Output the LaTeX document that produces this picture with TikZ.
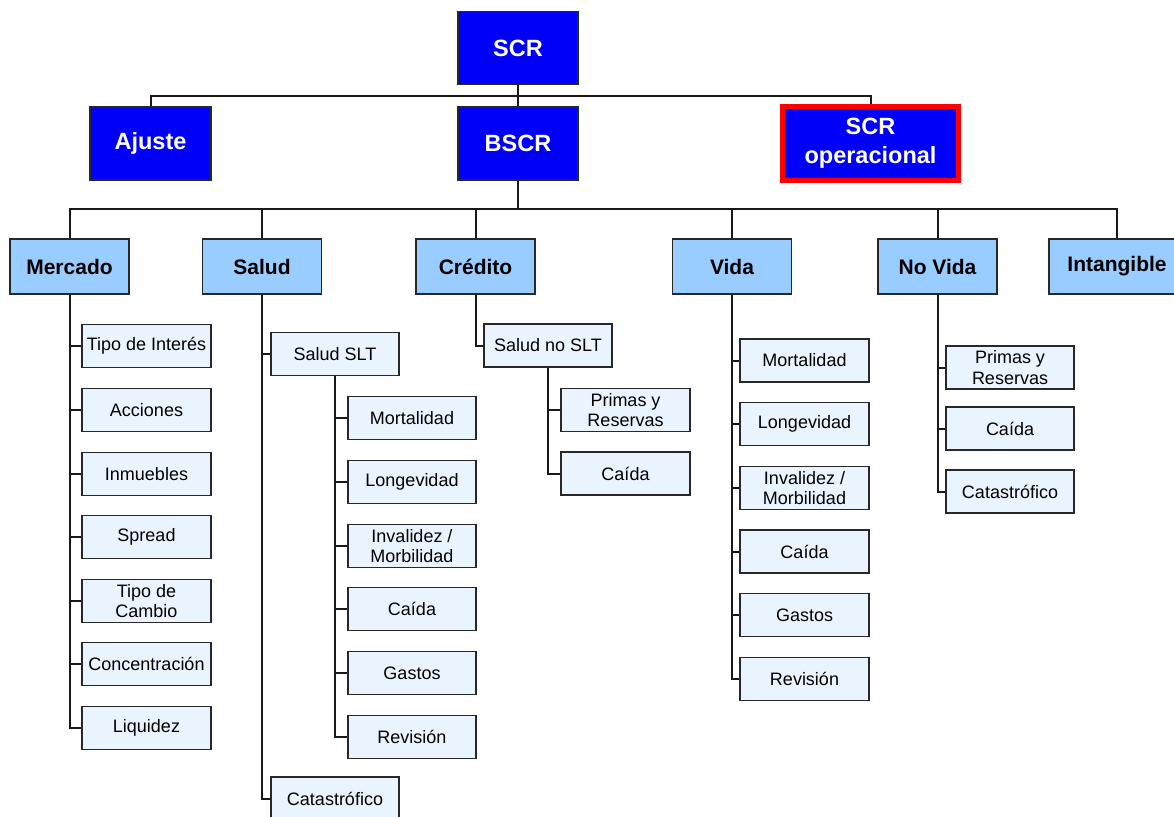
\documentclass[tikz,border=0pt]{standalone}
\usepackage{fontspec}
\setmainfont{Liberation Sans}
\definecolor{dblue}{RGB}{0,0,250}
\definecolor{lblue}{RGB}{153,204,255}
\definecolor{pblue}{RGB}{234,244,255}
\definecolor{bord}{RGB}{40,40,40}
\definecolor{opred}{RGB}{255,0,0}
\begin{document}
\begin{tikzpicture}[x=1pt,y=-1pt,
  box/.style={draw=bord, line width=1.3pt, inner sep=0pt, align=center},
  topbox/.style={box, fill=dblue, text=white, font=\bfseries\fontsize{23.5}{29}\selectfont, minimum width=120pt, minimum height=73pt},
  midbox/.style={box, fill=lblue, font=\bfseries\fontsize{21}{24}\selectfont, minimum width=119pt, minimum height=55pt},
  leaf/.style={box, fill=pblue, font=\fontsize{18}{20.5}\selectfont, minimum width=129pt, minimum height=43pt},
  conn/.style={line width=2pt, draw=black!90}]
\useasboundingbox (0,0) rectangle (1174,816);

% top levels
\node[topbox] (scr) at (518,48) {SCR};
\node[topbox, minimum width=121pt] (ajuste) at (150.5,143.5) {Ajuste};
\node[topbox] (bscr) at (518,143.5) {BSCR};
\node[topbox, draw=opred, line width=5pt, minimum width=176pt, minimum height=74pt] (scrop) at (870.5,143.5) {SCR\\operacional};

% level 2
\node[midbox] (mercado) at (69.5,266.5) {Mercado};
\node[midbox] (salud) at (262,266.5) {Salud};
\node[midbox] (credito) at (475.5,266.5) {Crédito};
\node[midbox] (vida) at (732,266.5) {Vida};
\node[midbox] (novida) at (937.5,266.5) {No Vida};
\node[midbox, minimum width=136pt] (intang) at (1117,266.5) {Intangible};

% Mercado leaves
\node[leaf] (m1) at (146.5,346) {Tipo de Interés};
\node[leaf] (m2) at (146.5,410) {Acciones};
\node[leaf] (m3) at (146.5,474) {Inmuebles};
\node[leaf] (m4) at (146.5,537) {Spread};
\node[leaf] (m5) at (146.5,601) {Tipo de\\Cambio};
\node[leaf] (m6) at (146.5,664) {Concentración};
\node[leaf] (m7) at (146.5,728) {Liquidez};

% Salud
\node[leaf, minimum width=128pt] (slt) at (335,354) {Salud SLT};
\node[leaf, minimum width=128pt] (scat) at (335,798.5) {Catastrófico};
\node[leaf, minimum width=128pt] (s1) at (412,418) {Mortalidad};
\node[leaf, minimum width=128pt] (s2) at (412,482) {Longevidad};
\node[leaf, minimum width=128pt] (s3) at (412,546) {Invalidez /\\Morbilidad};
\node[leaf, minimum width=128pt] (s4) at (412,609) {Caída};
\node[leaf, minimum width=128pt] (s5) at (412,673) {Gastos};
\node[leaf, minimum width=128pt] (s6) at (412,737) {Revisión};

% Credito
\node[leaf, minimum width=128pt] (nslt) at (548,345.5) {Salud no SLT};
\node[leaf] (c1) at (625.5,410) {Primas y\\Reservas};
\node[leaf] (c2) at (625.5,473.5) {Caída};

% Vida
\node[leaf] (v1) at (804.5,360.5) {Mortalidad};
\node[leaf] (v2) at (804.5,424) {Longevidad};
\node[leaf] (v3) at (804.5,488) {Invalidez /\\Morbilidad};
\node[leaf] (v4) at (804.5,551.5) {Caída};
\node[leaf] (v5) at (804.5,615) {Gastos};
\node[leaf] (v6) at (804.5,679) {Revisión};

% No Vida
\node[leaf, minimum width=128pt] (n1) at (1010,367.5) {Primas y\\Reservas};
\node[leaf, minimum width=128pt] (n2) at (1010,428.5) {Caída};
\node[leaf, minimum width=128pt] (n3) at (1010,491.5) {Catastrófico};

% connectors top
\coordinate (b1) at (518,96);
\coordinate (b2) at (518,209);
\draw[conn] (scr.south) -- (bscr.north);
\draw[conn] (ajuste.north) |- (b1) -| (scrop.north);
\draw[conn] (bscr.south) -- (b2);
\draw[conn] (mercado.north) |- (b2) -| (intang.north);
\foreach \n in {salud,credito,vida,novida}
  \draw[conn] (\n.north) -- (\n.north |- b2);

% Mercado
\draw[conn] (mercado.south) |- (m7.west);
\foreach \n in {m1,m2,m3,m4,m5,m6}
  \draw[conn] (\n.west) -- (\n.west -| mercado.south);
% Salud
\draw[conn] (salud.south) |- (scat.west);
\draw[conn] (slt.west) -- (slt.west -| salud.south);
\draw[conn] (slt.south) |- (s6.west);
\foreach \n in {s1,s2,s3,s4,s5}
  \draw[conn] (\n.west) -- (\n.west -| slt.south);
% Credito
\draw[conn] (credito.south) |- (nslt.west);
\draw[conn] (nslt.south) |- (c2.west);
\draw[conn] (c1.west) -- (c1.west -| nslt.south);
% Vida
\draw[conn] (vida.south) |- (v6.west);
\foreach \n in {v1,v2,v3,v4,v5}
  \draw[conn] (\n.west) -- (\n.west -| vida.south);
% No Vida
\draw[conn] (novida.south) |- (n3.west);
\foreach \n in {n1,n2}
  \draw[conn] (\n.west) -- (\n.west -| novida.south);
\end{tikzpicture}
\end{document}
